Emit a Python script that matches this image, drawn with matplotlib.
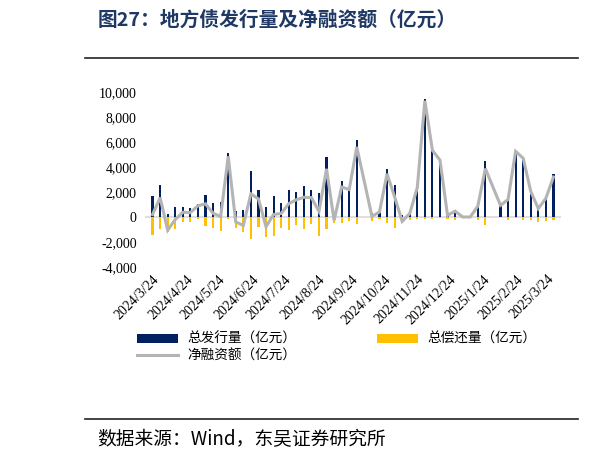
import numpy as np
import pandas as pd
import matplotlib
matplotlib.use("Agg")
import matplotlib.pyplot as plt
from matplotlib.lines import Line2D
from matplotlib.patches import Patch

plt.rcParams['font.family'] = ['Noto Sans CJK SC', 'DejaVu Sans']

# ---- data (亿元), weekly ----
dates = pd.date_range("2024-03-24", periods=54, freq="7D")
issuance = [1700, 2530, 200, 800, 800, 750, 1070, 1730, 1120, 1200,
            5120, 450, 530, 3650, 2130, 800, 1680, 1150, 2130, 2000,
            2480, 2130, 1950, 4800, 250, 2850, 2190, 6190, np.nan, 350,
            500, 3810, 2530, 130, 400, 2450, 9470, 5400, 4560, 250,
            480, 0, 0, 960, 4470, np.nan, 930, 1420, 5300, 4800,
            1870, 800, 1550, 3400]
repayment = [1450, 930, 1200, 930, 400, 400, 200, 720, 850, 1150,
             200, 850, 1200, 1800, 800, 1600, 1500, 880, 1070, 670,
             930, 590, 1550, 930, 520, 480, 320, 530, np.nan, 320,
             150, 450, 850, 480, 270, 190, 130, 130, 80, 150,
             210, 0, 0, 270, 610, np.nan, 0, 210, 80, 210,
             210, 400, 300, 210]
net = [200, 1550, -1050, -200, 380, 350, 900, 1050, 300, 30,
       4850, -400, -670, 1850, 1450, -780, 200, 280, 1060, 1380,
       1580, 1550, 450, 3850, -270, 2400, 2200, 5600, np.nan, 50,
       400, 3450, 1620, -350, 280, 2350, 9300, 5330, 4550, 130,
       470, 0, 0, 870, 3870, np.nan, 930, 1400, 5250, 4700,
       2050, 670, 1500, 3200]
tick_dates = pd.date_range("2024-03-01", periods=13, freq="MS") + pd.Timedelta(days=23)
tick_labels = [f"{d.year}/{d.month}/{d.day}" for d in tick_dates]
yticks = [-4000, -2000, 0, 2000, 4000, 6000, 8000, 10000]

issuance = np.array(issuance, dtype=float)
repayment = np.array(repayment, dtype=float)
net = np.array(net, dtype=float)

W, H = 593, 461
fig = plt.figure(figsize=(W / 100, H / 100), dpi=100)

left, right, top, bottom = 145, 561, 92, 267
ax = fig.add_axes([left / W, 1 - bottom / H, (right - left) / W, (bottom - top) / H])

navy = "#002060"
gold = "#FFC000"
grey = "#B4B4B4"

ax.axhline(0, color="#D9D9D9", lw=1.2, zorder=1)
ax.bar(dates, issuance, width=2.0, color=navy, zorder=2)
ax.bar(dates, -repayment, width=2.0, color=gold, zorder=2)
m = np.isfinite(net)
ax.plot(dates[m], net[m], color=grey, lw=2.2, zorder=3, solid_joinstyle="miter")

ax.set_xlim(dates[0] - pd.Timedelta(days=7), dates[-1] + pd.Timedelta(days=7))
ax.set_ylim(-4000, 10000)
ax.set_yticks(yticks)
ax.set_yticklabels([f"{v:,}" for v in yticks], fontfamily="Liberation Serif", fontsize=10)
ax.set_xticks(tick_dates)
ax.set_xticklabels(tick_labels, rotation=45, ha="right", rotation_mode="anchor",
                   fontfamily="Liberation Serif", fontsize=10)
ax.tick_params(axis="both", length=0, pad=6)
ax.tick_params(axis="x", pad=4)
for s in ax.spines.values():
    s.set_visible(False)
ax.patch.set_alpha(0)

handles = [Patch(facecolor=navy, edgecolor="none"),
           Line2D([0], [0], color=grey, lw=2.2),
           Patch(facecolor=gold, edgecolor="none")]
labels = ["总发行量（亿元）", "净融资额（亿元）", "总偿还量（亿元）"]
fig.legend(handles, labels, ncol=2, loc="upper left",
           bbox_to_anchor=(137 / W, 1 - 332 / H), frameon=False,
           fontsize=9.8, handlelength=3.0, handleheight=0.65, handletextpad=0.7,
           columnspacing=5.9, labelspacing=0.2, borderpad=0, borderaxespad=0)

# title and rules
fig.text(98 / W, 1 - 20 / H, "图27：地方债发行量及净融资额（亿元）", fontsize=14.2,
         fontweight="bold", color="#1F3864", va="center", ha="left")
fig.add_artist(Line2D([85 / W, 578 / W], [1 - 58 / H, 1 - 58 / H], color="#222222", lw=1.2))
fig.add_artist(Line2D([85 / W, 578 / W], [1 - 419 / H, 1 - 419 / H], color="#222222", lw=1.2))
fig.text(97 / W, 1 - 440 / H, "数据来源：Wind，东吴证券研究所", fontsize=13.5,
         color="black", va="center", ha="left")

fig.savefig("out.png", dpi=100)
